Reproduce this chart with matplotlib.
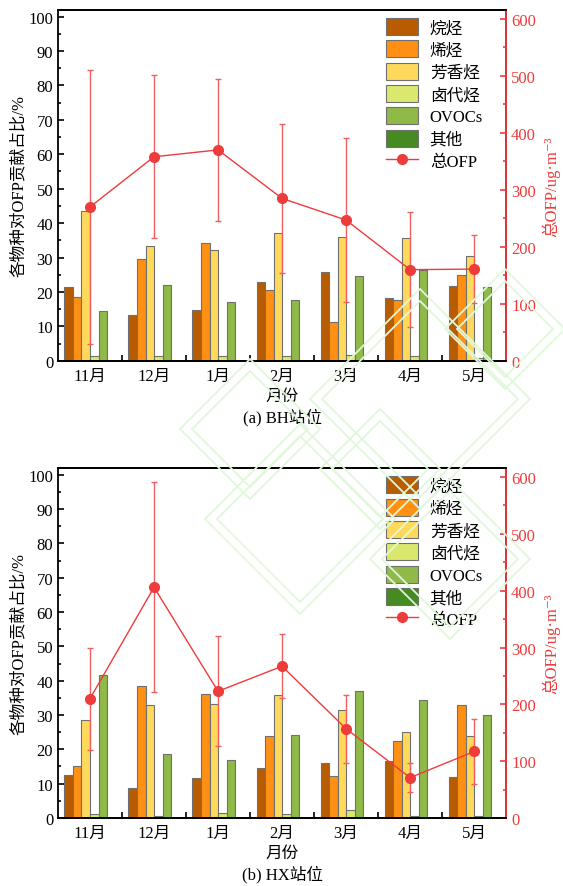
import numpy as np
import matplotlib
matplotlib.use("Agg")
import matplotlib.pyplot as plt
from matplotlib.patches import Polygon
from matplotlib.ticker import MultipleLocator

plt.rcParams['font.family'] = ['Liberation Serif', 'Noto Sans CJK SC', 'DejaVu Serif']

months = ['11月', '12月', '1月', '2月', '3月', '4月', '5月']
species = ['烷烃', '烯烃', '芳香烃', '卤代烃', 'OVOCs', '其他']
colors = ['#B95C00', '#FF9014', '#FFD95C', '#DAE86E', '#8FBA48', '#468A22']

# BH station, share of OFP (%)
bh_alkane = [21.5, 13.4, 14.8, 22.8, 25.7, 18.2, 21.8]
bh_alkene = [18.6, 29.6, 34.1, 20.5, 11.2, 17.6, 24.8]
bh_aromatic = [43.5, 33.5, 32.3, 37.1, 36.1, 35.8, 30.6]
bh_halo = [1.3, 1.3, 1.3, 1.3, 1.8, 1.3, 0.8]
bh_ovoc = [14.6, 22.0, 17.0, 17.7, 24.7, 26.5, 21.6]
bh_other = [0.1, 0.1, 0.1, 0.1, 0.1, 0.1, 0.1]
bh_ofp = [270, 358, 370, 285, 247, 160, 161]
bh_ofp_err = [240, 143, 124, 130, 144, 101, 60]

# HX station
hx_alkane = [12.6, 8.8, 11.6, 14.5, 16.0, 16.6, 11.8]
hx_alkene = [15.0, 38.4, 36.2, 23.9, 12.3, 22.5, 32.9]
hx_aromatic = [28.6, 32.9, 33.2, 35.7, 31.5, 25.0, 23.9]
hx_halo = [1.3, 0.7, 1.55, 1.2, 2.2, 0.6, 0.6]
hx_ovoc = [41.7, 18.5, 16.8, 24.2, 37.0, 34.4, 30.0]
hx_other = [0.1, 0.1, 0.1, 0.1, 0.1, 0.1, 0.1]
hx_ofp = [210, 406, 223, 267, 157, 71, 117]
hx_ofp_err = [90, 185, 97, 56, 60, 25, 58]

red = '#EE3B3B'

fig = plt.figure(figsize=(5.63, 8.87), dpi=100)

# faint green watermark (decoration only), centres and half-widths in pixels
wm = [(420, 400, 110), (300, 520, 95), (505, 330, 60), (250, 430, 70), (450, 560, 80),
      (380, 470, 60)]
for cx, cy, r in wm:
    for rr in (r, r - 12):
        fx, fy, hw, hh = cx / 563, 1 - cy / 887, rr / 563, rr / 887
        fig.patches.append(Polygon([(fx - hw, fy), (fx, fy + hh), (fx + hw, fy), (fx, fy - hh)],
                                   closed=True, fill=False, ec='#E0F8DA', lw=1.3,
                                   transform=fig.transFigure, zorder=0))


def draw(rect, data, ofp, err, caption):
    ax = fig.add_axes(rect)
    ax.patch.set_alpha(0)
    x = np.arange(len(months))
    w = 0.133
    handles = []
    for k, vals in enumerate(data):
        b = ax.bar(x + (k - 2.5) * w, vals, w, color=colors[k], edgecolor='#707070',
                   linewidth=0.8, label=species[k])
        handles.append(b)
    ax.set_xlim(-0.5, len(months) - 0.5)
    ax.set_ylim(0, 102)
    ax.yaxis.set_major_locator(MultipleLocator(10))
    ax.yaxis.set_minor_locator(MultipleLocator(5))
    ax.set_xticks(x)
    ax.set_xticklabels(months, fontsize=12)
    ax.set_xticks(np.arange(len(months) - 1) + 0.5, minor=True)
    ax.tick_params(axis='x', which='major', length=0, pad=5)
    ax.tick_params(axis='x', which='minor', direction='in', length=4, width=1.2)
    ax.tick_params(axis='y', which='both', direction='in', labelsize=12, width=1.2)
    ax.tick_params(axis='y', which='major', length=4)
    ax.tick_params(axis='y', which='minor', length=2)
    for s in ax.spines.values():
        s.set_linewidth(1.3)
    ax.set_ylabel('各物种对OFP贡献占比/%', fontsize=12, labelpad=1)
    ax.set_xlabel('月份', fontsize=12, labelpad=3)
    ax.text(0.5, -0.132, caption, transform=ax.transAxes, ha='center', va='top', fontsize=12)

    ax2 = ax.twinx()
    ln = ax2.errorbar(x, ofp, yerr=err, color=red, marker='o', ms=7, lw=1,
                      elinewidth=1, ecolor='#F06060', capsize=2.5, capthick=1, label='总OFP')
    ax2.set_ylim(0, 616)
    ax2.yaxis.set_major_locator(MultipleLocator(100))
    ax2.yaxis.set_minor_locator(MultipleLocator(50))
    ax2.tick_params(axis='y', which='both', direction='in', colors=red, labelsize=12, width=1.2)
    ax2.tick_params(axis='y', which='major', length=4)
    ax2.tick_params(axis='y', which='minor', length=2)
    ax2.spines['right'].set_color(red)
    ax2.spines['right'].set_linewidth(1.3)
    ax2.spines['left'].set_visible(False)
    ax2.spines['top'].set_linewidth(1.3)
    ax2.spines['bottom'].set_linewidth(1.3)
    ax2.set_ylabel('总OFP/ug·m⁻³', color=red, fontsize=12, labelpad=4)

    # legend: use only the line part of the errorbar container
    ax2.legend(handles + [ln[0]], species + ['总OFP'], loc='upper right', frameon=False,
               fontsize=12, handlelength=1.95, handleheight=1.2, handletextpad=0.7,
               labelspacing=0.25, borderaxespad=0.1, bbox_to_anchor=(0.967, 1.0))
    return ax


draw([0.103, 0.592, 0.796, 0.396],
     [bh_alkane, bh_alkene, bh_aromatic, bh_halo, bh_ovoc, bh_other],
     bh_ofp, bh_ofp_err, '(a) BH站位')
draw([0.103, 0.0767, 0.796, 0.3946],
     [hx_alkane, hx_alkene, hx_aromatic, hx_halo, hx_ovoc, hx_other],
     hx_ofp, hx_ofp_err, '(b) HX站位')

fig.savefig('out.png', dpi=100)
